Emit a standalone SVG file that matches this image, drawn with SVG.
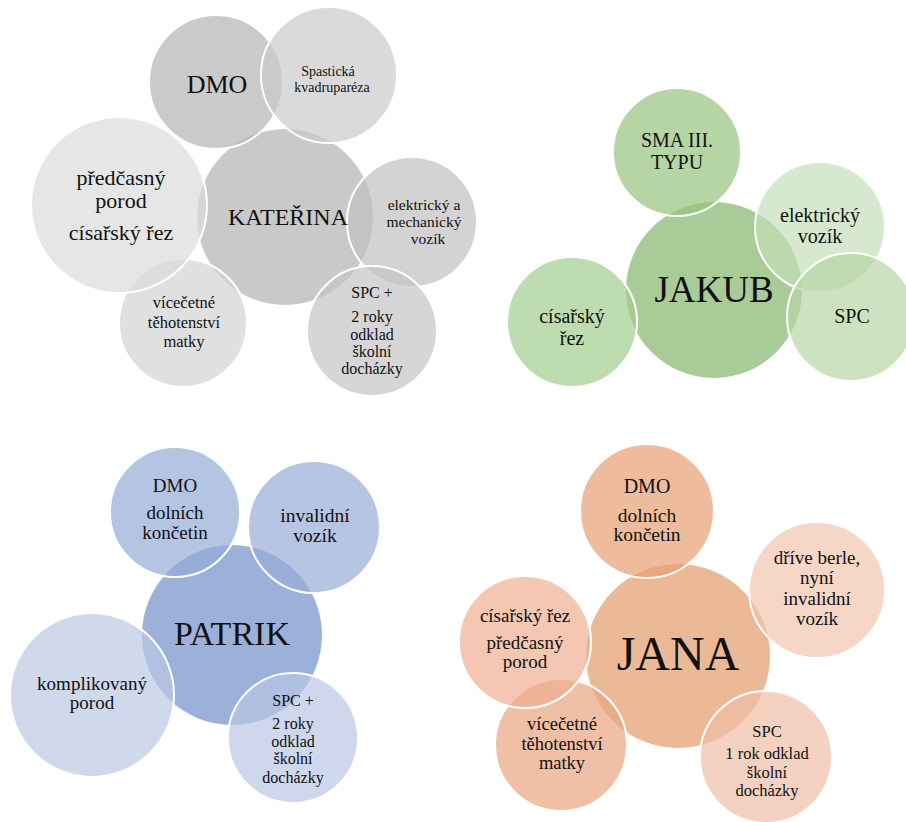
<svg xmlns="http://www.w3.org/2000/svg" width="906" height="822" viewBox="0 0 906 822">
<style>
  text { font-family: "Liberation Serif", "Times New Roman", serif; fill: #111; text-anchor: middle; }
  .c { stroke: none; }
  .o { stroke: #fff; stroke-width: 2; fill-opacity: 0.7; }
</style>
<rect width="906" height="822" fill="#fff"/>
<g id="connectors"></g>

<!-- KATEŘINA -->
<g id="katerina-group">
  <g id="katerina"><circle class="c" cx="285" cy="217" r="88" fill="#c9c9c9"/></g>
  <g id="k-dmo"><circle class="o" cx="216" cy="82" r="67" fill="#b4b4b4"/></g>
  <g id="k-spast"><circle class="o" cx="329" cy="75" r="68" fill="#cacaca"/></g>
  <g id="k-elektricky"><circle class="o" cx="412" cy="222" r="65" fill="#c0c0c0"/></g>
  <g id="k-spc"><circle class="o" cx="372" cy="331" r="65" fill="#c4c4c4"/></g>
  <g id="k-vicecetne"><circle class="o" cx="183" cy="323" r="64" fill="#d3d3d3"/></g>
  <g id="k-predcasny"><circle class="o" cx="119" cy="205" r="88" fill="#dbdbdb"/></g>
  <text x="288" y="225" font-size="24">KATEŘINA</text>
  <text x="217" y="93" font-size="26">DMO</text>
  <text x="328" y="76" font-size="14">Spastická</text>
  <text x="332" y="92" font-size="14">kvadruparéza</text>
  <text x="121" y="185" font-size="22">předčasný</text>
  <text x="121" y="208" font-size="22">porod</text>
  <text x="121" y="240" font-size="22">císařský řez</text>
  <text x="424" y="210" font-size="15.5">elektrický a</text>
  <text x="424" y="227" font-size="15.5">mechanický</text>
  <text x="428" y="244" font-size="15.5">vozík</text>
  <text x="372" y="298" font-size="16">SPC +</text>
  <text x="372" y="322" font-size="16">2 roky</text>
  <text x="372" y="340" font-size="16">odklad</text>
  <text x="372" y="357" font-size="16">školní</text>
  <text x="372" y="374" font-size="16">docházky</text>
  <text x="184" y="308" font-size="16.5">vícečetné</text>
  <text x="184" y="328" font-size="16.5">těhotenství</text>
  <text x="184" y="347" font-size="16.5">matky</text>
</g>

<!-- JAKUB -->
<g id="jakub-group">
  <g id="jakub"><circle class="c" cx="714" cy="290" r="88" fill="#a9cb97"/></g>
  <g id="j-sma"><circle class="o" cx="677" cy="152" r="64" fill="#95c37d"/></g>
  <g id="j-elektricky"><circle class="o" cx="820" cy="227" r="65" fill="#c4deb8"/></g>
  <g id="j-spc"><circle class="o" cx="851" cy="317" r="64" fill="#b6d6a5"/></g>
  <g id="j-cisarsky"><circle class="o" cx="572" cy="322" r="65" fill="#a1cd8d"/></g>
  <text x="714" y="302" font-size="37">JAKUB</text>
  <text x="677" y="147" font-size="20">SMA III.</text>
  <text x="677" y="169" font-size="20">TYPU</text>
  <text x="820" y="222" font-size="20">elektrický</text>
  <text x="820" y="243" font-size="20">vozík</text>
  <text x="852" y="323" font-size="20">SPC</text>
  <text x="572" y="323" font-size="20">císařský</text>
  <text x="572" y="345" font-size="20">řez</text>
</g>

<!-- PATRIK -->
<g id="patrik-group">
  <g id="patrik"><circle class="c" cx="232" cy="635" r="90" fill="#9cb1d9"/></g>
  <g id="p-dmo"><circle class="o" cx="175" cy="512" r="65" fill="#94abd7"/></g>
  <g id="p-invalidni"><circle class="o" cx="314" cy="527" r="66" fill="#97acd7"/></g>
  <g id="p-spc"><circle class="o" cx="293" cy="738" r="65" fill="#b9c6e4"/></g>
  <g id="p-komplikovany"><circle class="o" cx="92" cy="695" r="82" fill="#bcc7e4"/></g>
  <text x="232" y="645" font-size="34">PATRIK</text>
  <text x="175" y="492" font-size="19">DMO</text>
  <text x="175" y="519" font-size="19">dolních</text>
  <text x="175" y="539" font-size="19">končetin</text>
  <text x="315" y="522" font-size="19.5">invalidní</text>
  <text x="315" y="542" font-size="19.5">vozík</text>
  <text x="92" y="690" font-size="19">komplikovaný</text>
  <text x="92" y="709" font-size="19">porod</text>
  <text x="293" y="706" font-size="16">SPC +</text>
  <text x="293" y="729" font-size="16">2 roky</text>
  <text x="293" y="747" font-size="16">odklad</text>
  <text x="293" y="764" font-size="16">školní</text>
  <text x="293" y="783" font-size="16">docházky</text>
</g>

<!-- JANA -->
<g id="jana-group">
  <g id="jana"><circle class="c" cx="678" cy="656" r="92" fill="#ecb996"/></g>
  <g id="n-dmo"><circle class="o" cx="647" cy="511" r="67" fill="#e79f73"/></g>
  <g id="n-drive"><circle class="o" cx="817" cy="590" r="68" fill="#f2c4af"/></g>
  <g id="n-spc"><circle class="o" cx="766" cy="757" r="66" fill="#f1bda6"/></g>
  <g id="n-vicecetne"><circle class="o" cx="561" cy="745" r="66" fill="#eaa580"/></g>
  <g id="n-cisarsky"><circle class="o" cx="525" cy="642" r="66" fill="#eeaf92"/></g>
  <text x="678" y="670" font-size="48">JANA</text>
  <text x="647" y="493" font-size="20">DMO</text>
  <text x="647" y="522" font-size="19.5">dolních</text>
  <text x="647" y="541" font-size="19.5">končetin</text>
  <text x="817" y="564" font-size="19">dříve berle,</text>
  <text x="817" y="584" font-size="19">nyní</text>
  <text x="817" y="605" font-size="19">invalidní</text>
  <text x="817" y="625" font-size="19">vozík</text>
  <text x="525" y="622" font-size="19">císařský řez</text>
  <text x="525" y="649" font-size="19">předčasný</text>
  <text x="525" y="668" font-size="19">porod</text>
  <text x="562" y="730" font-size="18.5">vícečetné</text>
  <text x="562" y="750" font-size="18.5">těhotenství</text>
  <text x="562" y="769" font-size="18.5">matky</text>
  <text x="767" y="737" font-size="16.5">SPC</text>
  <text x="767" y="759" font-size="16.5">1 rok odklad</text>
  <text x="767" y="778" font-size="16.5">školní</text>
  <text x="767" y="796" font-size="16.5">docházky</text>
</g>
</svg>
